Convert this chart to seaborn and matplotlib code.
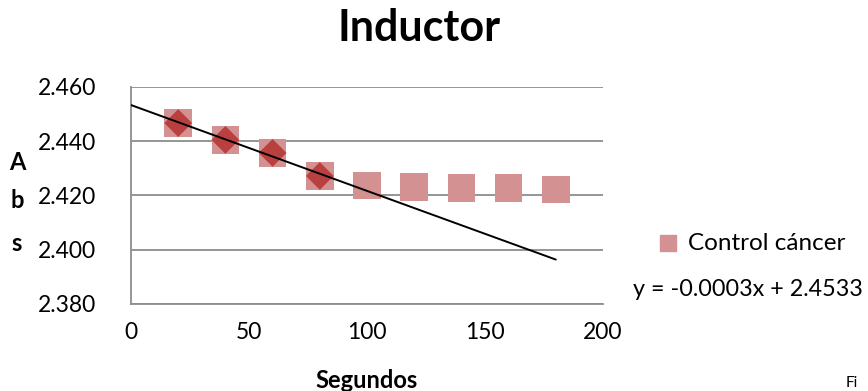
import numpy as np
import pandas as pd
import matplotlib
matplotlib.use("Agg")
import matplotlib.pyplot as plt
import seaborn as sns

# Data
segundos = [20, 40, 60, 80, 100, 120, 140, 160, 180]
control_cancer = [2.4467, 2.4405, 2.4357, 2.4272, 2.4236, 2.4231, 2.4227, 2.4227, 2.4223]
inductor_x = [20, 40, 60, 80]
inductor_y = [2.4467, 2.4405, 2.4357, 2.4272]
trend_x_range = [0, 180]
y_ticks = [2.380, 2.400, 2.420, 2.440, 2.460]
x_ticks = [0, 50, 100, 150, 200]
title = "Inductor"
xlabel = "Segundos"
ylabel_letters = ["A", "b", "s"]
legend_label = "Control cáncer"
equation = "y = -0.0003x + 2.4533"

sns.set_theme(style="white")
plt.rcParams['font.family'] = ['Lato', 'DejaVu Sans']

fig = plt.figure(figsize=(8.68, 3.91), dpi=100)
ax = fig.add_axes([131/868, 1-304/391, (603-131)/868, (304-87)/391])

grid_col = "#8c8c8c"
for yt in y_ticks:
    ax.axhline(yt, color=grid_col, lw=1.3, zorder=0)

df_c = pd.DataFrame({"x": segundos, "y": control_cancer})
df_i = pd.DataFrame({"x": inductor_x, "y": inductor_y})

sns.scatterplot(data=df_c, x="x", y="y", marker="s", s=390, color="#d39192",
                edgecolor="none", ax=ax, zorder=3, legend=False)
sns.scatterplot(data=df_i, x="x", y="y", marker="D", s=200, color="#b9403e",
                edgecolor="none", ax=ax, zorder=4, legend=False)

coef = np.polyfit(inductor_x, inductor_y, 1)
tx = np.array(trend_x_range, dtype=float)
df_t = pd.DataFrame({"x": tx, "y": np.polyval(coef, tx)})
sns.lineplot(data=df_t, x="x", y="y", color="black", lw=1.4, ax=ax, zorder=5)

ax.set_xlim(0, 200)
ax.set_ylim(2.380, 2.460)
ax.set_xticks(x_ticks)
ax.set_yticks(y_ticks)
ax.set_xticklabels([str(v) for v in x_ticks])
ax.set_yticklabels([f"{v:.3f}" for v in y_ticks])
ax.tick_params(axis="both", length=0, labelsize=16.5, colors="black")
ax.tick_params(axis="y", pad=25)
ax.tick_params(axis="x", pad=13)
ax.set_xlabel("")
ax.set_ylabel("")
for side in ["top", "right"]:
    ax.spines[side].set_visible(False)
for side in ["left", "bottom"]:
    ax.spines[side].set_color(grid_col)
    ax.spines[side].set_linewidth(1.3)
ax.set_facecolor("white")

fig.text(419/868, 1-28/391, title, ha="center", va="center", fontsize=31, fontweight="bold", color="black")
fig.text(367/868, 1-380/391, xlabel, ha="center", va="center", fontsize=17, fontweight="bold", color="black")
for letter, yy in zip(ylabel_letters, [163, 200, 243]):
    fig.text(17/868, 1-yy/391, letter, ha="center", va="center", fontsize=17, fontweight="bold", color="black")

# legend
fig.patches.append(plt.Rectangle((660/868, 1-251/391), 16/868, 16/391,
                                 transform=fig.transFigure, color="#d39192"))
fig.text(688/868, 1-243/391, legend_label, ha="left", va="center", fontsize=17.5, color="black")
fig.text(633/868, 1-289/391, equation, ha="left", va="center", fontsize=16.8, color="black")
fig.text(846/868, 1/391, "Fi", ha="left", va="bottom", fontsize=11, color="black")

fig.savefig("out.png", dpi=100, facecolor="white")
